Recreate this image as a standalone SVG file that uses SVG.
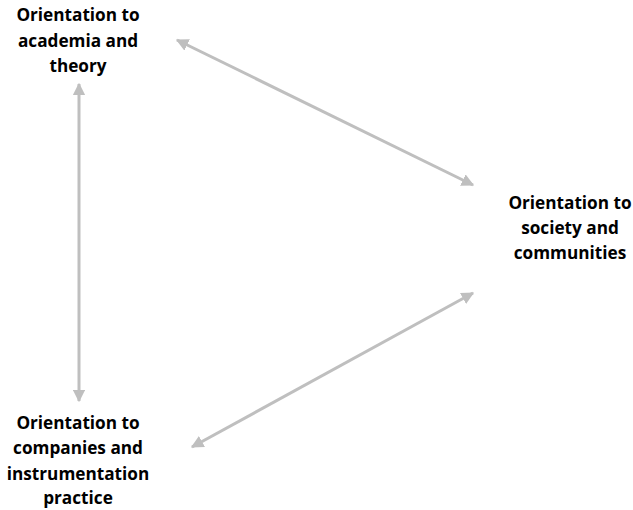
<svg xmlns="http://www.w3.org/2000/svg" width="633" height="510" viewBox="0 0 633 510">
  <style>
    .label { font-family: "Open Sans", "Liberation Sans", sans-serif; font-weight: bold; font-size: 17.2px; fill: #000; text-anchor: middle; }
    .link { stroke: #BFBFBF; stroke-width: 3; fill: none; marker-start: url(#head); marker-end: url(#head); }
  </style>
  <defs>
    <marker id="head" viewBox="0 0 10 10" refX="9" refY="5" markerWidth="4.2" markerHeight="4.2" orient="auto-start-reverse" markerUnits="strokeWidth">
      <path d="M0,0 L10,5 L0,10 Z" fill="#BFBFBF"/>
    </marker>
  </defs>
  <rect width="633" height="510" fill="#FFFFFF"/>

  <g id="connectors">
    <line class="link" x1="177" y1="40" x2="473" y2="185"/>
    <line class="link" x1="79" y1="84" x2="79" y2="401"/>
    <line class="link" x1="473" y1="293" x2="192" y2="447"/>
  </g>

  <g id="node-academia">
    <text class="label" x="78" y="21">Orientation to</text>
    <text class="label" x="78" y="47">academia and</text>
    <text class="label" x="78" y="72">theory</text>
  </g>

  <g id="node-society">
    <text class="label" x="570" y="209">Orientation to</text>
    <text class="label" x="570" y="234">society and</text>
    <text class="label" x="570" y="259">communities</text>
  </g>

  <g id="node-companies">
    <text class="label" x="78" y="429">Orientation to</text>
    <text class="label" x="78" y="454">companies and</text>
    <text class="label" x="78" y="480">instrumentation</text>
    <text class="label" x="78" y="504">practice</text>
  </g>
</svg>
